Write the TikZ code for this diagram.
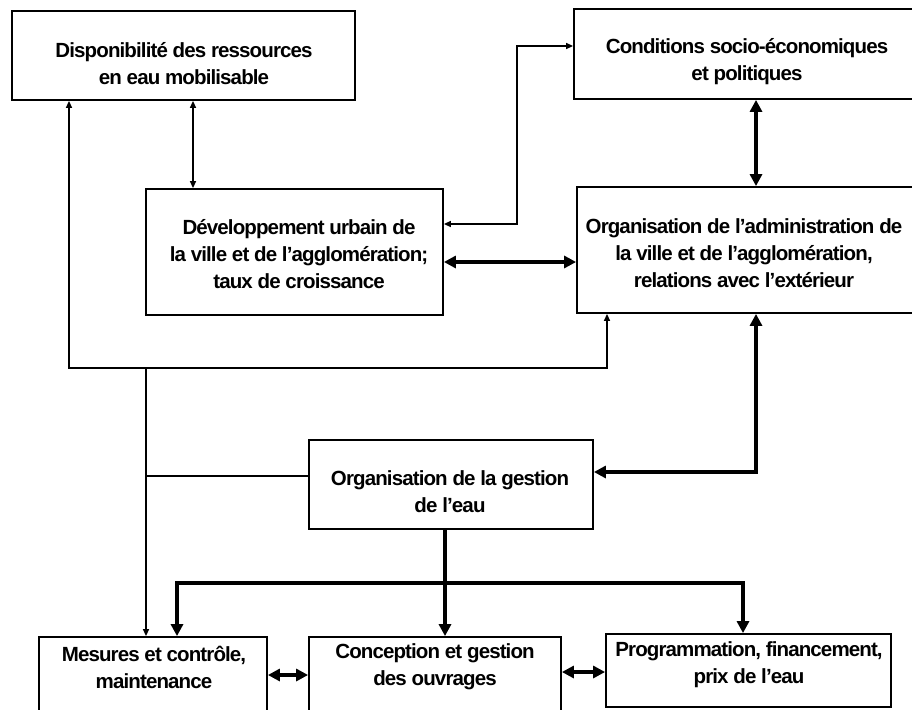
\documentclass[tikz,border=0pt]{standalone}
\usepackage{fontspec}
\setmainfont{Liberation Sans}[BoldFeatures={LetterSpace=-4.3}]
\usetikzlibrary{arrows.meta}
\begin{document}
\begin{tikzpicture}[x=1pt,y=-1pt,
  box/.style={draw,line width=1.8pt,inner sep=0pt,minimum width=#1},
  txt/.style={align=center,inner sep=0pt,font=\fontsize{20.5}{27}\selectfont\bfseries},
  thinc/.style={line width=1.4pt,{Triangle[length=7pt,width=6pt]}-{Triangle[length=7pt,width=6pt]}},
  thickc/.style={line width=3.2pt,{Triangle[length=12pt,width=12pt]}-{Triangle[length=12pt,width=12pt]}},
  thinone/.style={line width=1.4pt,-{Triangle[length=7pt,width=6pt]}},
  thickone/.style={line width=3.2pt,-{Triangle[length=12pt,width=12pt]}},
  plain/.style={line width=1.4pt}
]
\clip (0,0) rectangle (912,709);
\fill[white] (0,0) rectangle (912,709);
% boxes
\node[box=343pt,minimum height=89pt] (b1) at (183.5,55.5) {};
\node[box=346pt,minimum height=90pt] (b2) at (747,54) {};
\node[box=297pt,minimum height=126pt] (b3) at (294.5,252) {};
\node[box=343pt,minimum height=126pt] (b4) at (748.5,250) {};
\node[box=284pt,minimum height=89pt] (b5) at (451,484.5) {};
\node[box=228pt,minimum height=83pt] (b6) at (153,678.5) {};
\node[box=252pt,minimum height=83pt] (b7) at (435,678.5) {};
\node[box=285pt,minimum height=73pt] (b8) at (748.5,670.5) {};
% texts
\node[txt] (t1) at (184,64) {Disponibilité des ressources\\en eau mobilisable};
\node[txt] (t2) at (747,62) {Conditions socio-économiques\\et politiques};
\node[txt] (t3) at (299,254) {Développement urbain de\\la ville et de l’agglomération;\\taux de croissance};
\node[txt] (t4) at (744,253) {Organisation de l’administration de\\la ville et de l’agglomération,\\relations avec l’extérieur};
\node[txt] (t5) at (450,492) {Organisation de la gestion\\de l’eau};
\node[txt] (t6) at (154,667) {Mesures et contrôle,\\maintenance};
\node[txt] (t7) at (435,667) {Conception et gestion\\des ouvrages};
\node[txt] (t8) at (749,665) {Programmation, financement,\\prix de l’eau};
% junctions
\coordinate (j1) at (146,368);
\coordinate (j2) at (445,583);
% connectors
\draw[thinc] ([xshift=9.5pt]b1.south) -- ([xshift=9.5pt]b1.south |- b3.north);
\draw[thinc] ([yshift=28pt]b3.east) -- ++(73,0) |- ([yshift=8pt]b2.west);
\draw[thickc] ([yshift=-10pt]b3.east) -- ([yshift=-10pt]b3.east -| b4.west);
\draw[thickc] ([xshift=9pt]b2.south) -- ([xshift=9pt]b2.south |- b4.north);
\draw[thinc] ([xshift=-114.5pt]b1.south) |- (j1) -| ([xshift=-141.5pt]b4.south);
\draw[thinone] (j1) -- (j1 |- b6.north);
\draw[plain] ([yshift=8.5pt]b5.west) -- ([yshift=8.5pt]b5.west -| j1);
\draw[thickc] ([xshift=7.5pt]b4.south) |- ([yshift=12.5pt]b5.east);
\draw[thickone] ([xshift=-6pt]b5.south) -- ([xshift=-6pt]b5.south |- b7.north);
\draw[thickone] (j2) -| ([xshift=24pt]b6.north);
\draw[thickone] (j2) -| ([xshift=-5.5pt]b8.north);
\draw[thickc] ([yshift=3.5pt]b6.east) -- ([yshift=3.5pt]b6.east -| b7.west);
\draw[thickc] ([yshift=6.5pt]b7.east) -- ([yshift=6.5pt]b7.east -| b8.west);
\end{tikzpicture}
\end{document}
